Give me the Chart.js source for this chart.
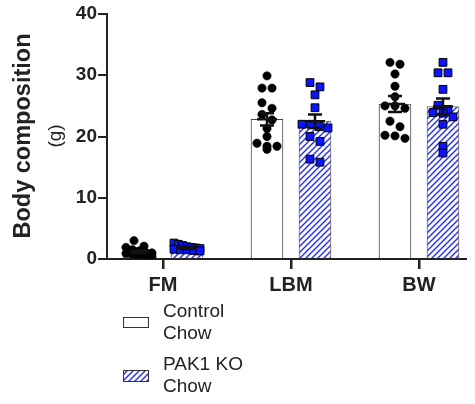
<!DOCTYPE html>
<html><head><meta charset="utf-8">
<script src="https://cdn.jsdelivr.net/npm/chart.js@4/dist/chart.umd.min.js"></script>
<style>html,body{margin:0;padding:0;background:#fff;}#wrap{width:475px;height:404px;position:relative;}</style>
</head><body><div id="wrap"><canvas id="c" width="475" height="404"></canvas></div>
<script>
// ---- data ----
const categories = ["FM", "LBM", "BW"];
const yTicks = [0, 10, 20, 30, 40];
const seriesLabels = ["Control Chow", "PAK1 KO Chow"];
const legendLabels = [["Control", "Chow"], ["PAK1 KO", "Chow"]];
const controlMeans = [1.2, 22.8, 25.3];
const koMeans = [1.8, 22.5, 24.9];
const controlSem = [0.2, 1.0, 1.3];
const koSem = [0.15, 1.1, 1.3];
const controlFM = [3.0, 2.1, 1.9, 1.5, 1.3, 1.1, 1.0, 0.9, 0.8, 0.7, 0.6, 0.5, 0.4];
const controlLBM = [29.9, 27.9, 27.9, 25.5, 24.6, 23.6, 22.7, 21.3, 20.0, 18.9, 18.4, 18.4, 17.9];
const controlBW = [32.1, 31.8, 30.2, 28.2, 26.5, 25.0, 25.0, 24.6, 22.5, 21.6, 20.2, 20.1, 19.7];
const koFM = [2.6, 2.4, 2.2, 2.0, 1.9, 1.8, 1.7, 1.6, 1.5, 1.5, 1.4, 1.3];
const koLBM = [28.8, 28.1, 26.8, 24.7, 22.0, 22.0, 21.6, 21.4, 20.0, 19.2, 16.3, 15.8];
const koBW = [32.1, 30.4, 30.4, 27.7, 25.1, 24.4, 23.9, 23.8, 23.2, 22.0, 18.4, 17.3];

const controlPoints = [controlFM, controlLBM, controlBW];
const koPoints = [koFM, koLBM, koBW];

// ---- layout helpers ----
const OFF = 0.1875;          // half distance between paired bars (x units)
const PX_PER_X = 128, PX_PER_Y = 245 / 40;
const FONT = "'Liberation Sans', Arial, sans-serif";

// row-based swarm placement (GraphPad-like)
function swarm(values, center) {
  const idx = values.map((v, i) => i).sort((a, b) => values[b] - values[a]);
  const xs = new Array(values.length).fill(center);
  let rows = [];
  let cur = [];
  idx.forEach(i => {
    if (cur.length && (values[cur[0]] - values[i]) * PX_PER_Y > 6) { rows.push(cur); cur = []; }
    cur.push(i);
  });
  if (cur.length) rows.push(cur);
  rows.forEach(r => {
    const n = r.length;
    let sp = 10;
    if (n > 1) sp = Math.min(10, 26 / (n - 1));
    r.forEach((i, k) => { xs[i] = center + ((k - (n - 1) / 2) * sp) / PX_PER_X; });
  });
  return xs;
}

function makeHatch() {
  const c = document.createElement('canvas');
  c.width = 6; c.height = 6;
  const g = c.getContext('2d');
  g.fillStyle = '#fff'; g.fillRect(0, 0, 6, 6);
  g.strokeStyle = '#1f2bff'; g.lineWidth = 1.4;
  g.beginPath();
  g.moveTo(0, 6); g.lineTo(6, 0);
  g.moveTo(-1, 1); g.lineTo(1, -1);
  g.moveTo(5, 7); g.lineTo(7, 5);
  g.stroke();
  return g.createPattern(c, 'repeat');
}
const hatch = makeHatch();

const ctrlScatter = [], koScatter = [];
categories.forEach((c, i) => {
  const cx = swarm(controlPoints[i], i - OFF);
  controlPoints[i].forEach((v, k) => ctrlScatter.push({ x: cx[k], y: v }));
  const kx = swarm(koPoints[i], i + OFF);
  koPoints[i].forEach((v, k) => koScatter.push({ x: kx[k], y: v }));
});

const extras = {
  id: 'extras',
  afterDatasetsDraw(chart) {
    const { ctx, scales: { x, y } } = chart;
    ctx.save();
    ctx.strokeStyle = '#111';
    ctx.lineWidth = 2.5;
    const draw = (cx, m, s) => {
      const px = x.getPixelForValue(cx);
      const t = y.getPixelForValue(m + s), b = y.getPixelForValue(m - s), mm = y.getPixelForValue(m);
      ctx.beginPath();
      ctx.moveTo(px, t); ctx.lineTo(px, b);
      ctx.moveTo(px - 7, t); ctx.lineTo(px + 7, t);
      ctx.moveTo(px - 7, b); ctx.lineTo(px + 7, b);
      ctx.moveTo(px - 10, mm); ctx.lineTo(px + 10, mm);
      ctx.stroke();
    };
    categories.forEach((c, i) => {
      draw(i - OFF, controlMeans[i], controlSem[i]);
      draw(i + OFF, koMeans[i], koSem[i]);
    });
    ctx.restore();
  },
  afterDraw(chart) {
    const ctx = chart.ctx;
    const { x } = chart.scales;
    const bottom = chart.chartArea.bottom;
    // x tick marks at category centres
    ctx.save();
    ctx.fillStyle = '#222';
    categories.forEach((c, i) => {
      const px = Math.round(x.getPixelForValue(i));
      ctx.fillRect(px - 1, bottom, 2.5, 10);
    });
    ctx.restore();
    ctx.save();
    ctx.fillStyle = '#222';
    // y-axis title
    ctx.translate(24, 136);
    ctx.rotate(-Math.PI / 2);
    ctx.textAlign = 'center'; ctx.textBaseline = 'middle';
    ctx.font = 'bold 23.5px ' + FONT;
    ctx.fillText('Body composition', 0, 0);
    ctx.font = '19px ' + FONT;
    ctx.fillText('(g)', 0, 32);
    ctx.restore();
    // legend
    ctx.save();
    const fills = [chart.data.datasets[0].backgroundColor, chart.data.datasets[1].backgroundColor];
    const sw = [{ y: 317, h: 10, t: 312 }, { y: 370, h: 11, t: 365 }];
    legendLabels.forEach((lines, i) => {
      ctx.fillStyle = fills[i];
      ctx.fillRect(123, sw[i].y, 25, sw[i].h);
      ctx.strokeStyle = '#333'; ctx.lineWidth = 1;
      ctx.strokeRect(123.5, sw[i].y + 0.5, 25, sw[i].h);
      ctx.fillStyle = '#222';
      ctx.font = '19px ' + FONT;
      ctx.textAlign = 'left'; ctx.textBaseline = 'middle';
      lines.forEach((ln, k) => ctx.fillText(ln, 163, sw[i].t + k * 22));
    });
    ctx.restore();
  }
};

new Chart(document.getElementById('c'), {
  type: 'bar',
  data: {
    datasets: [
      {
        type: 'bar', label: seriesLabels[0], order: 3,
        data: controlMeans.map((m, i) => ({ x: i - OFF, y: m })),
        backgroundColor: '#fff', borderColor: '#444', borderWidth: 1,
        barThickness: 32, grouped: false
      },
      {
        type: 'bar', label: seriesLabels[1], order: 3,
        data: koMeans.map((m, i) => ({ x: i + OFF, y: m })),
        backgroundColor: hatch, borderColor: '#666', borderWidth: 1,
        barThickness: 32, grouped: false
      },
      {
        type: 'scatter', label: seriesLabels[0] + ' points', order: 2,
        data: ctrlScatter, pointStyle: 'circle', pointRadius: 4.2,
        backgroundColor: '#000', borderColor: '#000', borderWidth: 0.5
      },
      {
        type: 'scatter', label: seriesLabels[1] + ' points', order: 1,
        data: koScatter, pointStyle: 'rect', pointRadius: 5.5,
        backgroundColor: '#0a14ff', borderColor: '#000', borderWidth: 1
      }
    ]
  },
  options: {
    responsive: false, animation: false,
    layout: { padding: { top: 14, right: 9, bottom: 0, left: 0 } },
    plugins: { legend: { display: false }, tooltip: { enabled: false } },
    scales: {
      x: {
        type: 'linear', min: -0.4375, max: 2.3672, offset: false,
        afterBuildTicks: s => { s.ticks = categories.map((c, i) => ({ value: i })); },
        afterFit: s => { s.height = 145; },
        ticks: {
          callback: v => categories[v], padding: 5,
          color: '#222', font: { family: FONT, size: 20, weight: 'bold' }
        },
        grid: { offset: false, drawOnChartArea: false, drawTicks: true, tickLength: 9, color: '#222', lineWidth: 2 },
        border: { display: true, color: '#222', width: 2 }
      },
      y: {
        min: 0, max: 40,
        afterBuildTicks: s => { s.ticks = yTicks.map(v => ({ value: v })); },
        afterFit: s => { s.width = 107; },
        ticks: { padding: 1, color: '#222', font: { family: FONT, size: 19, weight: 'bold' } },
        grid: { drawOnChartArea: false, drawTicks: true, tickLength: 9, color: '#222', lineWidth: 2 },
        border: { display: true, color: '#222', width: 2 }
      }
    }
  },
  plugins: [extras]
});
</script></body></html>
